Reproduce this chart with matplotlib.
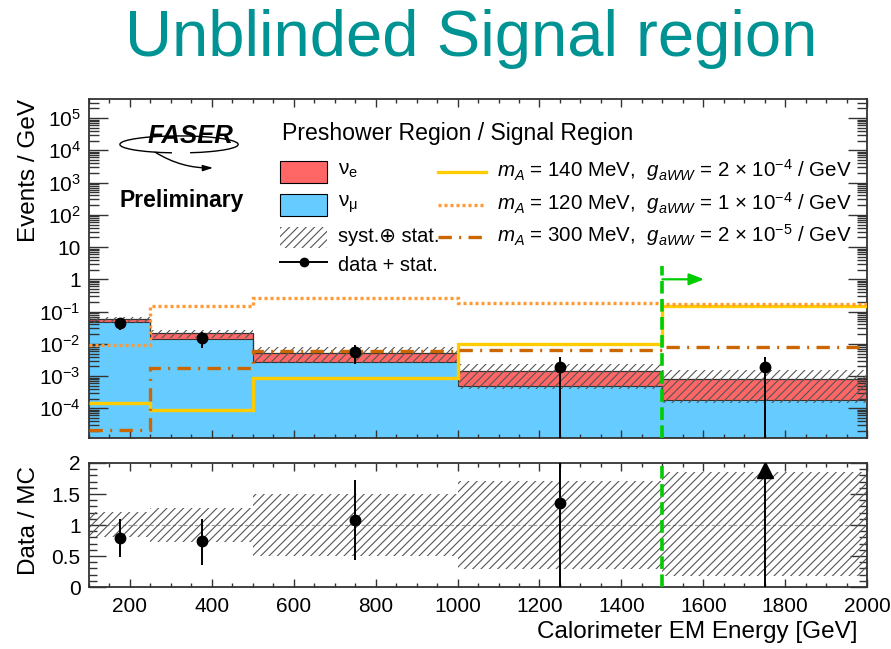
import numpy as np
import matplotlib
matplotlib.use("Agg")
import matplotlib.pyplot as plt
from matplotlib.patches import Rectangle, Arc
from matplotlib.lines import Line2D
from matplotlib.ticker import LogLocator, MultipleLocator, FixedLocator, FuncFormatter, NullFormatter

plt.rcParams['font.family'] = ['Liberation Sans', 'DejaVu Sans']
plt.rcParams['mathtext.fontset'] = 'custom'
plt.rcParams['mathtext.rm'] = 'Liberation Sans'
plt.rcParams['mathtext.it'] = 'Liberation Sans:italic'
plt.rcParams['mathtext.bf'] = 'Liberation Sans:bold'
plt.rcParams['hatch.linewidth'] = 0.8

# ---- binning and yields (events / GeV) ----
bin_edges = [100, 250, 500, 1000, 1500, 2000]
nu_mu = [0.046, 0.0145, 0.0027, 0.00049, 0.000186]
nu_e = [0.011, 0.0065, 0.0025, 0.00091, 0.000644]
data = [0.0447, 0.0155, 0.0056, 0.0019, 0.0019]
data_err_low = [0.0173, 0.0082, 0.0033, 0.0019, 0.0019]
data_err_high = [0.018, 0.0076, 0.0034, 0.0020, 0.0020]
syst_rel_low = [0.80, 0.73, 0.50, 0.29, 0.17]
syst_rel_high = [1.21, 1.27, 1.50, 1.71, 1.85]

# ALP signal hypotheses
alp_140 = [1.45e-4, 9.1e-5, 8.7e-4, 0.010, 0.145]
alp_120 = [0.0092, 0.145, 0.27, 0.18, 0.17]
alp_300 = [2.2e-5, 0.0018, 0.0059, 0.0066, 0.0079]

cut_energy = 1500

edges = np.array(bin_edges, float)
centers = 0.5 * (edges[:-1] + edges[1:])
mu = np.array(nu_mu)
total = mu + np.array(nu_e)
dat = np.array(data)
elo = np.array(data_err_low)
ehi = np.array(data_err_high)

C_RED = '#ff6666'
C_BLUE = '#66ccff'
C_YEL = '#ffcc00'
C_DOT = '#ff9933'
C_DD = '#cc6600'
C_GREEN = '#00cc00'
C_HATCH = '#555555'

fig = plt.figure(figsize=(8.91, 6.49), dpi=100)
ax = fig.add_axes([0.0999, 0.3251, 0.8733, 0.5224])
axr = fig.add_axes([0.0999, 0.0955, 0.8733, 0.1911])

YLO, YHI = 1.2e-5, 3.9e5

# ---- main panel ----
ax.set_yscale('log')
ax.stairs(mu, edges, baseline=1e-9, fill=True, color=C_BLUE, zorder=1)
ax.stairs(total, edges, baseline=mu, fill=True, color=C_RED, zorder=1)
ax.stairs(mu, edges, baseline=None, color='#333333', lw=0.8, zorder=2)
ax.stairs(total, edges, baseline=None, color='#333333', lw=0.9, zorder=2)
ax.stairs(total * np.array(syst_rel_high), edges, baseline=total * np.array(syst_rel_low),
          fill=True, facecolor='none', edgecolor=C_HATCH, hatch='////', lw=0, zorder=3)

ax.stairs(alp_140, edges, baseline=None, color=C_YEL, lw=2.4, zorder=4)
ax.stairs(alp_120, edges, baseline=None, color=C_DOT, lw=2.4, ls=(0, (0.9, 0.9)), zorder=4)
ax.stairs(alp_300, edges, baseline=None, color=C_DD, lw=2.4, ls=(0, (4, 2.2, 0.6, 2.2)), zorder=4)

ax.errorbar(centers, dat, yerr=[elo, ehi], fmt='o', color='black', ms=7.5,
            elinewidth=1.4, capsize=0, zorder=6)

ax.plot([cut_energy, cut_energy], [YLO, 2.6], color=C_GREEN, lw=2.6, ls=(0, (3.5, 1.5)), zorder=5)
ax.annotate('', xy=(cut_energy + 102, 1.0), xytext=(cut_energy, 1.0),
            arrowprops=dict(arrowstyle='-|>,head_length=0.9,head_width=0.35',
                            color=C_GREEN, lw=1.6, shrinkA=0, shrinkB=0), zorder=5)

ax.set_xlim(edges[0], edges[-1])
ax.set_ylim(YLO, YHI)


def log_label(v, pos):
    e = int(round(np.log10(v)))
    if e == 0:
        return '1'
    if e == 1:
        return '10'
    return r'$10^{%d}$' % e


ax.yaxis.set_major_locator(FixedLocator([10.0 ** k for k in range(-4, 6)]))
ax.yaxis.set_major_formatter(FuncFormatter(log_label))
ax.yaxis.set_minor_locator(LogLocator(base=10, subs=np.arange(2, 10), numticks=100))
ax.yaxis.set_minor_formatter(NullFormatter())
ax.xaxis.set_major_locator(MultipleLocator(200))
ax.xaxis.set_minor_locator(MultipleLocator(50))
ax.tick_params(axis='x', labelbottom=False)
ax.set_ylabel('Events / GeV', fontsize=17.5, loc='top')
ax.yaxis.set_label_coords(-0.063, 1.0)

# ---- legend block ----
T = ax.transAxes
ax.text(0.248, 0.897, 'Preshower Region / Signal Region', transform=T, fontsize=16.6,
        va='center', ha='left')
ax.add_patch(Rectangle((0.2455, 0.752), 0.0604, 0.065, transform=T, facecolor=C_RED,
                       edgecolor='black', lw=0.8, zorder=7))
ax.add_patch(Rectangle((0.2455, 0.656), 0.0604, 0.065, transform=T, facecolor=C_BLUE,
                       edgecolor='black', lw=0.8, zorder=7))
ax.add_patch(Rectangle((0.2455, 0.560), 0.0604, 0.063, transform=T, facecolor='none',
                       edgecolor=C_HATCH, hatch='////', lw=0, zorder=7))
ax.add_line(Line2D([0.2455, 0.306], [0.519, 0.519], transform=T, color='black', lw=1.4,
                   marker=None, zorder=7))
ax.add_line(Line2D([0.2758], [0.519], transform=T, color='black', marker='o', ms=6, zorder=7))
ax.text(0.320, 0.788, r'$\mathrm{\nu}_{\mathrm{e}}$', transform=T, fontsize=15, va='center', ha='left')
ax.text(0.320, 0.690, r'$\mathrm{\nu}_{\mathrm{\mu}}$', transform=T, fontsize=15, va='center', ha='left')
ax.text(0.320, 0.593, 'syst.\u2295 stat.', transform=T, fontsize=14.4, va='center', ha='left')
ax.text(0.320, 0.510, 'data + stat.', transform=T, fontsize=14.4, va='center', ha='left')

ax.add_line(Line2D([0.4486, 0.5103], [0.785, 0.785], transform=T, color=C_YEL, lw=2.4, zorder=7))
ax.add_line(Line2D([0.4486, 0.5103], [0.687, 0.687], transform=T, color=C_DOT, lw=2.4,
                   ls=(0, (0.9, 0.9)), zorder=7))
ax.add_line(Line2D([0.4486, 0.5103], [0.593, 0.593], transform=T, color=C_DD, lw=2.4,
                   ls=(0, (4, 2.2, 0.6, 2.2)), zorder=7))
sig_labels = [
    r'$m_{A}$ = 140 MeV,  $g_{aWW}$ = 2 $\times$ 10$^{-4}$ / GeV',
    r'$m_{A}$ = 120 MeV,  $g_{aWW}$ = 1 $\times$ 10$^{-4}$ / GeV',
    r'$m_{A}$ = 300 MeV,  $g_{aWW}$ = 2 $\times$ 10$^{-5}$ / GeV',
]
for yy, lab in zip([0.790, 0.692, 0.598], sig_labels):
    ax.text(0.5244, yy, lab, transform=T, fontsize=14.8, va='center', ha='left')

# FASER logo and status
ax.text(0.1298, 0.890, 'FASER', transform=T, fontsize=18.5, fontweight='bold', style='italic',
        va='center', ha='center', zorder=8)
ax.add_patch(Arc((0.1157, 0.866), 0.152, 0.05, transform=T, theta1=-60, theta2=250,
                 color='black', lw=1.0, zorder=7))
ax.annotate('', xy=(0.1595, 0.797), xytext=(0.085, 0.843), xycoords=T, textcoords=T,
            arrowprops=dict(arrowstyle='-|>,head_length=0.6,head_width=0.18', color='black',
                            lw=1.0, shrinkA=0, shrinkB=0, connectionstyle='arc3,rad=0.15'))
ax.text(0.0398, 0.702, 'Preliminary', transform=T, fontsize=16.5, fontweight='bold',
        va='center', ha='left')

# ---- ratio panel ----
ratio = dat / total
r_lo = elo / total
r_hi = ehi / total
axr.stairs(np.array(syst_rel_high), edges, baseline=np.array(syst_rel_low), fill=True,
           facecolor='none', edgecolor=C_HATCH, hatch='////', lw=0, zorder=2)
axr.axhline(1.0, color='#999999', lw=0.8, ls=(0, (3, 2)), zorder=1)
RLO, RHI = 0.0, 2.0
inside = ratio <= RHI
axr.errorbar(centers[inside], ratio[inside], yerr=[r_lo[inside], r_hi[inside]], fmt='o',
             color='black', ms=7.5, elinewidth=1.4, capsize=0, zorder=5)
for xc, r, lo in zip(centers[~inside], ratio[~inside], r_lo[~inside]):
    top = RHI - 0.11
    axr.plot([xc, xc], [max(r - lo, RLO), top], color='black', lw=1.4, zorder=5)
    axr.plot([xc], [top], marker='^', color='black', ms=11, zorder=5)
axr.axvline(cut_energy, color=C_GREEN, lw=2.6, ls=(0, (3.5, 1.5)), zorder=4)
axr.set_xlim(edges[0], edges[-1])
axr.set_ylim(RLO, RHI)
axr.yaxis.set_major_locator(FixedLocator([0, 0.5, 1, 1.5, 2]))
axr.yaxis.set_major_formatter(FuncFormatter(lambda v, p: '%g' % v))
axr.yaxis.set_minor_locator(MultipleLocator(0.1))
axr.xaxis.set_major_locator(MultipleLocator(200))
axr.xaxis.set_minor_locator(MultipleLocator(50))
axr.set_ylabel('Data / MC', fontsize=17.5)
axr.yaxis.set_label_coords(-0.063, 0.54)
axr.set_xlabel('Calorimeter EM Energy [GeV]', fontsize=17.5, loc='right')
axr.xaxis.set_label_coords(0.988, -0.27)

for a in (ax, axr):
    a.tick_params(which='both', direction='in', top=True, right=True, labelsize=15,
                  width=1.0, color='#333333')
    a.tick_params(axis='x', which='major', length=6, pad=7)
    a.tick_params(axis='x', which='minor', length=3)
    for s in a.spines.values():
        s.set_linewidth(1.3)
        s.set_color('#333333')
ax.tick_params(axis='y', which='major', length=14, pad=6)
ax.tick_params(axis='y', which='minor', length=7)
axr.tick_params(axis='y', which='major', length=12, pad=6)
axr.tick_params(axis='y', which='minor', length=6)

fig.text(0.529, 0.940, 'Unblinded Signal region', color='#009393', fontsize=47,
         ha='center', va='center')

fig.savefig('out.png', dpi=100)
